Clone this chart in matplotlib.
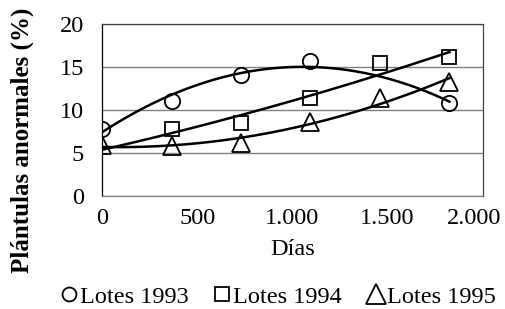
import numpy as np
import matplotlib
matplotlib.use('Agg')
import matplotlib.pyplot as plt
import matplotlib.transforms as mtransforms
from matplotlib.lines import Line2D

plt.rcParams['font.family'] = ['Liberation Serif', 'DejaVu Serif']

# days of storage
dias_93 = [0, 365, 730, 1095, 1825]
lotes_93 = [7.8, 11.1, 14.1, 15.7, 10.8]
dias_94 = [365, 730, 1095, 1460, 1825]
lotes_94 = [7.8, 8.5, 11.35, 15.5, 16.15]
dias_95 = [0, 365, 730, 1095, 1460, 1825]
lotes_95 = [5.9, 5.8, 6.1, 8.6, 11.4, 13.3]

xticks = [0, 500, 1000, 1500, 2000]
xlabels = ['0', '500', '1.000', '1.500', '2.000']
yticks = [0, 5, 10, 15, 20]

fig = plt.figure(figsize=(5.05, 3.09), dpi=100)
ax = fig.add_axes([0.202, 0.367, 0.754, 0.554])

xx = np.linspace(0, 1825, 200)
series = [(dias_93, lotes_93, 'o', 11, 10, 2, 'Lotes 1993'),
          (dias_94, lotes_94, 's', 10, 9.5, 2, 'Lotes 1994'),
          (dias_95, lotes_95, '^', 13, 14, 2, 'Lotes 1995')]
handles = []
for dx, dy, m, ms, lms, deg, lab in series:
    ax.plot(dx, dy, linestyle='none', marker=m, markersize=ms, mfc='none',
            mec='black', mew=1.3, zorder=3)
    # excel style polynomial trendline
    p = np.polyfit(dx, dy, deg)
    ax.plot(xx, np.polyval(p, xx), color='black', lw=1.8, zorder=4)
    handles.append(Line2D([], [], linestyle='none', marker=m, markersize=lms,
                          mfc='none', mec='black', mew=1.3, label=lab))

ax.set_xlim(0, 2000)
ax.set_ylim(0, 20)
ax.set_xticks(xticks)
ax.set_xticklabels(xlabels)
ax.set_yticks(yticks)
ax.tick_params(length=0, labelsize=17.5)
ax.tick_params(axis='x', pad=9)
ax.tick_params(axis='y', pad=13)
# last label sits a bit to the left in the original
lbl = ax.get_xticklabels()[-1]
lbl.set_transform(lbl.get_transform() + mtransforms.ScaledTranslation(-9 / 100, 0, fig.dpi_scale_trans))
ax.grid(axis='y', color='#808080', lw=1)
for s in ax.spines.values():
    s.set_color('#404040')
    s.set_linewidth(0.9)
ax.spines['left'].set_color('black')
ax.spines['bottom'].set_color('#808080')

ax.set_xlabel('Días', fontsize=17.5, labelpad=7)
ax.set_ylabel('Plántulas anormales (%)', fontsize=18, fontweight='bold')
ax.yaxis.set_label_coords(-0.178, 0.325)

fig.legend(handles=handles, loc='center', bbox_to_anchor=(0.552, 0.04),
           ncol=3, frameon=False, fontsize=17.5, handlelength=0.6,
           handletextpad=0.15, columnspacing=1.1, borderpad=0)

fig.savefig('out.png', dpi=100)
